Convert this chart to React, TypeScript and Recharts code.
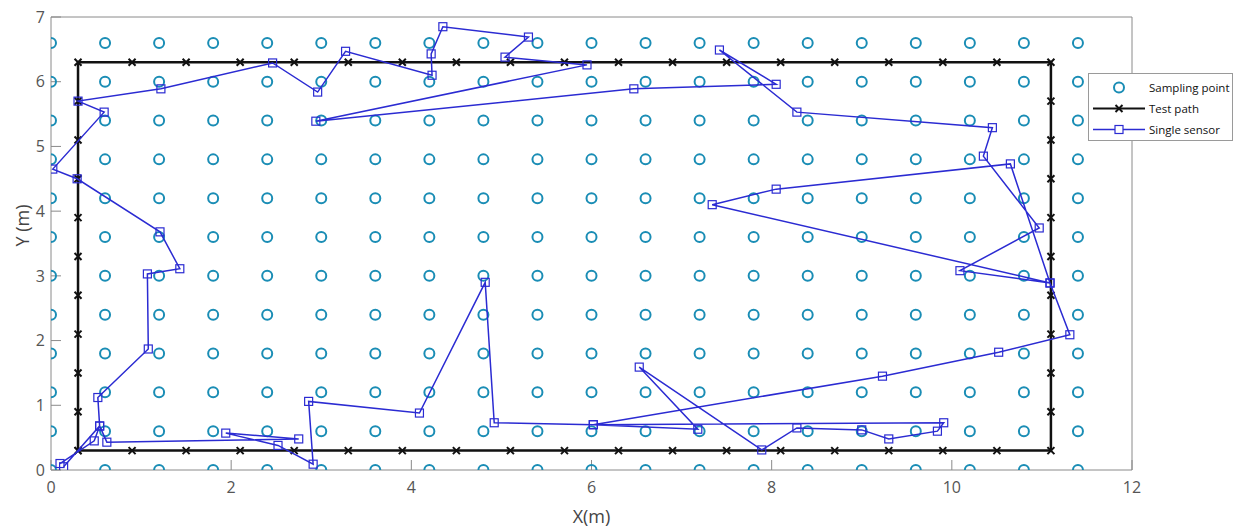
import { ScatterChart, Scatter, XAxis, YAxis, Legend } from 'recharts';

// sampling grid (m)
const gridXs = [0, 0.6, 1.2, 1.8, 2.4, 3, 3.6, 4.2, 4.8, 5.4, 6, 6.6, 7.2, 7.8, 8.4, 9, 9.6, 10.2, 10.8, 11.4];
const gridYs = [0, 0.6, 1.2, 1.8, 2.4, 3, 3.6, 4.2, 4.8, 5.4, 6, 6.6];

// test path marker positions along the rectangle edges
const pathXs = [0.3, 0.9, 1.5, 2.1, 2.7, 3.3, 3.9, 4.5, 5.1, 5.7, 6.3, 6.9, 7.5, 8.1, 8.7, 9.3, 9.9, 10.5, 11.1];
const pathYs = [0.3, 0.9, 1.5, 2.1, 2.7, 3.3, 3.9, 4.5, 5.1, 5.7, 6.3];

// single sensor estimated track
const sensorX = [
  0.10, 0.48, 0.54, 0.52, 1.08, 1.07, 1.43, 1.21, 0.29, 0.02,
  0.59, 0.30, 1.22, 2.46, 2.96, 3.27, 4.23, 4.22, 4.35, 5.30,
  5.04, 5.95, 2.94, 6.47, 8.05, 7.42, 8.28, 10.45, 10.35, 10.97,
  10.09, 11.09, 7.34, 8.05, 10.65, 11.09, 11.31, 10.52, 9.23, 6.02,
  7.18, 6.53, 7.89, 8.28, 9.00, 9.30, 9.84, 9.91, 6.02, 4.92,
  4.82, 4.09, 2.86, 2.91, 2.52, 1.94, 2.75, 0.62, 0.54, 0.14,
];
const sensorY = [
  0.10, 0.45, 0.68, 1.12, 1.87, 3.03, 3.11, 3.68, 4.50, 4.65,
  5.53, 5.70, 5.89, 6.29, 5.84, 6.47, 6.10, 6.43, 6.85, 6.69,
  6.38, 6.26, 5.39, 5.89, 5.96, 6.49, 5.53, 5.29, 4.85, 3.74,
  3.08, 2.89, 4.10, 4.34, 4.73, 2.89, 2.09, 1.82, 1.45, 0.70,
  0.63, 1.59, 0.31, 0.65, 0.62, 0.48, 0.60, 0.73, 0.70, 0.73,
  2.90, 0.88, 1.06, 0.09, 0.38, 0.57, 0.48, 0.43, 0.68, 0.05,
];

const xTicks = [0, 2, 4, 6, 8, 10, 12];
const yTicks = [0, 1, 2, 3, 4, 5, 6, 7];
const legendLabels = ['Sampling point', 'Test path', 'Single sensor'];

const samplingPoints = gridYs.flatMap((y) => gridXs.map((x) => ({ x, y })));

const x0 = pathXs[0];
const x1 = pathXs[pathXs.length - 1];
const y0 = pathYs[0];
const y1 = pathYs[pathYs.length - 1];
const testPath = [
  ...pathXs.map((x) => ({ x, y: y0 })),
  ...pathYs.slice(1).map((y) => ({ x: x1, y })),
  ...pathXs.slice(0, -1).reverse().map((x) => ({ x, y: y1 })),
  ...pathYs.slice(0, -1).reverse().map((y) => ({ x: x0, y })),
];

const sensorTrack = sensorX.map((x, i) => ({ x, y: sensorY[i] }));

const TEAL = '#1a8db5';
const BLUE = '#2b2bd2';
const AXIS = '#8a8a8a';

const Ring = (p: any) => (
  <circle cx={p.cx} cy={p.cy} r={5} fill="none" stroke={TEAL} strokeWidth={2} />
);

const Cross = (p: any) => {
  const { cx, cy } = p;
  const s = 3.5;
  return (
    <path
      d={`M${cx - s},${cy - s}L${cx + s},${cy + s}M${cx - s},${cy + s}L${cx + s},${cy - s}`}
      stroke="#111"
      strokeWidth={2}
    />
  );
};

const Square = (p: any) => (
  <rect x={p.cx - 4} y={p.cy - 4} width={8} height={8} fill="none" stroke={BLUE} strokeWidth={1.2} />
);

const renderLegend = () => (
  <div
    style={{
      width: 145,
      height: 68,
      boxSizing: 'border-box',
      border: '1px solid #9a9a9a',
      background: '#fff',
      fontFamily: '"Open Sans", sans-serif',
      fontSize: 11.5,
      color: '#111',
      paddingTop: 3,
      whiteSpace: 'nowrap',
    }}
  >
    {legendLabels.map((label, i) => (
      <div key={label} style={{ display: 'flex', alignItems: 'center', height: 21 }}>
        <svg width={58} height={21} style={{ flex: 'none' }}>
          {i === 0 && <circle cx={30} cy={10.5} r={5} fill="none" stroke={TEAL} strokeWidth={2} />}
          {i === 1 && (
            <g>
              <line x1={4} x2={56} y1={10.5} y2={10.5} stroke="#111" strokeWidth={2} />
              <path d="M26.5,7L33.5,14M26.5,14L33.5,7" stroke="#111" strokeWidth={2} />
            </g>
          )}
          {i === 2 && (
            <g>
              <line x1={4} x2={56} y1={10.5} y2={10.5} stroke={BLUE} strokeWidth={1.5} />
              <rect x={26} y={6.5} width={8} height={8} fill="#fff" stroke={BLUE} strokeWidth={1.2} />
            </g>
          )}
        </svg>
        <span style={{ marginLeft: 2 }}>{label}</span>
      </div>
    ))}
  </div>
);

const yLabel = (props: any) => {
  const vb = props.viewBox;
  const cx = vb.x + 6;
  const cy = vb.y + vb.height / 2 - 18;
  return (
    <text
      x={cx}
      y={cy}
      transform={`rotate(-90, ${cx}, ${cy})`}
      textAnchor="middle"
      dominantBaseline="central"
      fill="#444"
      fontSize={18}
    >
      Y (m)
    </text>
  );
};

export default function App() {
  return (
    <div style={{ position: 'absolute', left: 0, top: 0, width: 1236, height: 530, background: '#fff' }}>
      <ScatterChart
        width={1236}
        height={530}
        margin={{ top: 16, right: 103, bottom: 20, left: 16 }}
        style={{ fontFamily: '"Open Sans", sans-serif' }}
      >
        <XAxis
          type="number"
          dataKey="x"
          domain={[0, 12]}
          ticks={xTicks}
          allowDataOverflow
          height={40}
          stroke={AXIS}
          tickSize={-10}
          tickMargin={22}
          tick={{ fill: '#555', fontSize: 16 }}
          label={{ value: 'X(m)', position: 'bottom', offset: 0, fill: '#444', fontSize: 18 }}
        />
        <YAxis
          type="number"
          dataKey="y"
          domain={[0, 7]}
          ticks={yTicks}
          allowDataOverflow
          width={35}
          stroke={AXIS}
          tickSize={-10}
          tickMargin={16}
          tick={{ fill: '#555', fontSize: 16 }}
          label={{ content: yLabel }}
        />
        <XAxis
          xAxisId="top"
          orientation="top"
          type="number"
          domain={[0, 12]}
          ticks={xTicks}
          allowDataOverflow
          height={1}
          stroke={AXIS}
          tickSize={-10}
          tick={false}
        />
        <YAxis
          yAxisId="right"
          orientation="right"
          type="number"
          domain={[0, 7]}
          ticks={yTicks}
          allowDataOverflow
          width={1}
          stroke={AXIS}
          tickSize={-10}
          tick={false}
        />
        <Legend
          layout="horizontal"
          verticalAlign="middle"
          align="center"
          content={renderLegend}
          wrapperStyle={{ left: 1088, top: 73, width: 145 }}
        />
        <Scatter name="Sampling point" data={samplingPoints} shape={Ring} isAnimationActive={false} />
        <Scatter
          name="Test path"
          data={testPath}
          shape={Cross}
          line={{ stroke: '#111', strokeWidth: 2.5 }}
          lineJointType="linear"
          isAnimationActive={false}
        />
        <Scatter
          name="Single sensor"
          data={sensorTrack}
          shape={Square}
          line={{ stroke: BLUE, strokeWidth: 1.5 }}
          lineJointType="linear"
          isAnimationActive={false}
        />
      </ScatterChart>
    </div>
  );
}
